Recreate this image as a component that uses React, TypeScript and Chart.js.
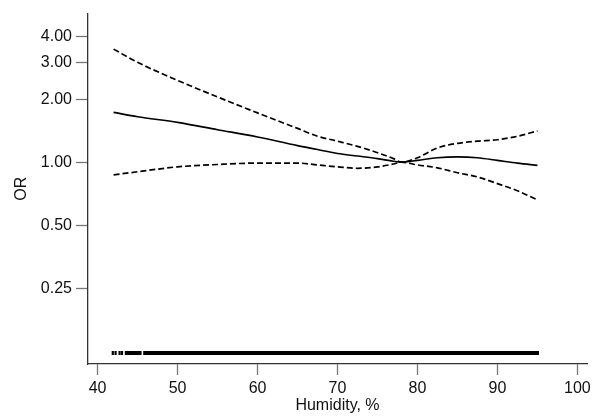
import React, { useEffect, useRef } from "react";
import { Chart, registerables } from "chart.js";

Chart.register(...registerables);

const humidity = [42, 45, 50, 55, 60, 65, 67.5, 70, 72.5, 75, 77, 78, 80, 82.5, 85, 87.5, 90, 92.5, 95];
const orFit = [1.73, 1.65, 1.55, 1.43, 1.32, 1.2, 1.15, 1.1, 1.07, 1.04, 1.01, 1.0, 1.02, 1.05, 1.06, 1.05, 1.02, 0.99, 0.965];
const ciUpper = [3.47, 3.0, 2.46, 2.05, 1.72, 1.45, 1.33, 1.26, 1.19, 1.11, 1.04, 1.0, 1.05, 1.17, 1.23, 1.26, 1.28, 1.33, 1.41];
const ciLower = [0.87, 0.9, 0.95, 0.975, 0.99, 0.99, 0.97, 0.95, 0.935, 0.95, 0.98, 1.0, 0.97, 0.94, 0.89, 0.85, 0.79, 0.73, 0.66];

const rugMarks = [41.9, 42.25, 42.75, 43.05];
const rugSegments: [number, number][] = [
  [43.4, 45.5],
  [45.7, 95.2],
];
const rugLevel = 0.1226;

const xTicks = [40, 50, 60, 70, 80, 90, 100];
const yTicks = [0.25, 0.5, 1, 2, 3, 4];

const FONT = "Arial, 'Liberation Sans', sans-serif";

export default function App() {
  const ref = useRef<HTMLCanvasElement | null>(null);

  useEffect(() => {
    if (!ref.current) return;
    const pts = (ys: number[]) => humidity.map((x, i) => ({ x, y: ys[i] }));
    const rugLine: { x: number; y: number | null }[] = [];
    rugSegments.forEach(([a, b], i) => {
      if (i > 0) rugLine.push({ x: (rugSegments[i - 1][1] + a) / 2, y: null });
      rugLine.push({ x: a, y: rugLevel }, { x: b, y: rugLevel });
    });

    const chart = new Chart(ref.current, {
      type: "line",
      data: {
        datasets: [
          {
            data: pts(orFit),
            borderColor: "#000",
            borderWidth: 1.6,
            pointRadius: 0,
            cubicInterpolationMode: "monotone",
          },
          {
            data: pts(ciUpper),
            borderColor: "#000",
            borderWidth: 1.7,
            borderDash: [6, 3],
            pointRadius: 0,
            cubicInterpolationMode: "monotone",
          },
          {
            data: pts(ciLower),
            borderColor: "#000",
            borderWidth: 1.7,
            borderDash: [6, 3],
            pointRadius: 0,
            cubicInterpolationMode: "monotone",
          },
          {
            data: rugLine as any,
            borderColor: "#000",
            borderWidth: 4,
            borderCapStyle: "butt",
            pointRadius: 0,
            spanGaps: false,
          },
          {
            type: "scatter",
            data: rugMarks.map((x) => ({ x, y: rugLevel })),
            pointStyle: "line",
            rotation: 90,
            radius: 2,
            borderColor: "#000",
            borderWidth: 2.2,
            backgroundColor: "#000",
          } as any,
        ],
      },
      options: {
        animation: false,
        responsive: false,
        events: [],
        layout: { padding: { top: 8, right: 12, left: 0, bottom: 0 } },
        plugins: { legend: { display: false }, tooltip: { enabled: false } },
        scales: {
          x: {
            type: "linear",
            min: 38.8,
            max: 101.2,
            afterFit: (s: any) => {
              s.height = 52;
            },
            afterBuildTicks: (s: any) => {
              s.ticks = xTicks.map((v) => ({ value: v }));
            },
            grid: {
              drawOnChartArea: false,
              drawTicks: true,
              tickLength: 11,
              tickColor: "#777",
              tickWidth: 1.3,
            },
            border: { display: true, color: "#333", width: 1.3 },
            ticks: {
              color: "#111",
              font: { family: FONT, size: 16 },
              padding: 4,
              maxRotation: 0,
              autoSkip: false,
            },
            title: {
              display: true,
              text: "Humidity, %",
              color: "#111",
              font: { family: FONT, size: 16 },
              padding: { top: 1, bottom: 1 },
            },
          },
          y: {
            type: "logarithmic",
            min: 0.1085,
            max: 5.13,
            afterFit: (s: any) => {
              s.width = 88;
            },
            afterBuildTicks: (s: any) => {
              s.ticks = yTicks.map((v) => ({ value: v }));
            },
            grid: {
              drawOnChartArea: false,
              drawTicks: true,
              tickLength: 12,
              tickColor: "#777",
              tickWidth: 1.3,
            },
            border: { display: true, color: "#333", width: 1.3 },
            ticks: {
              color: "#111",
              font: { family: FONT, size: 16 },
              padding: 4,
              autoSkip: false,
              callback: (v: any) => Number(v).toFixed(2),
            },
            title: {
              display: true,
              text: "OR",
              color: "#111",
              font: { family: FONT, size: 16 },
              padding: { top: 12, bottom: 12 },
            },
          },
        },
      },
    });
    return () => chart.destroy();
  }, []);

  return (
    <div style={{ position: "absolute", left: 0, top: 0, width: 599, height: 416, background: "#fff" }}>
      <canvas ref={ref} width={599} height={416} style={{ width: 599, height: 416, display: "block" }} />
    </div>
  );
}
